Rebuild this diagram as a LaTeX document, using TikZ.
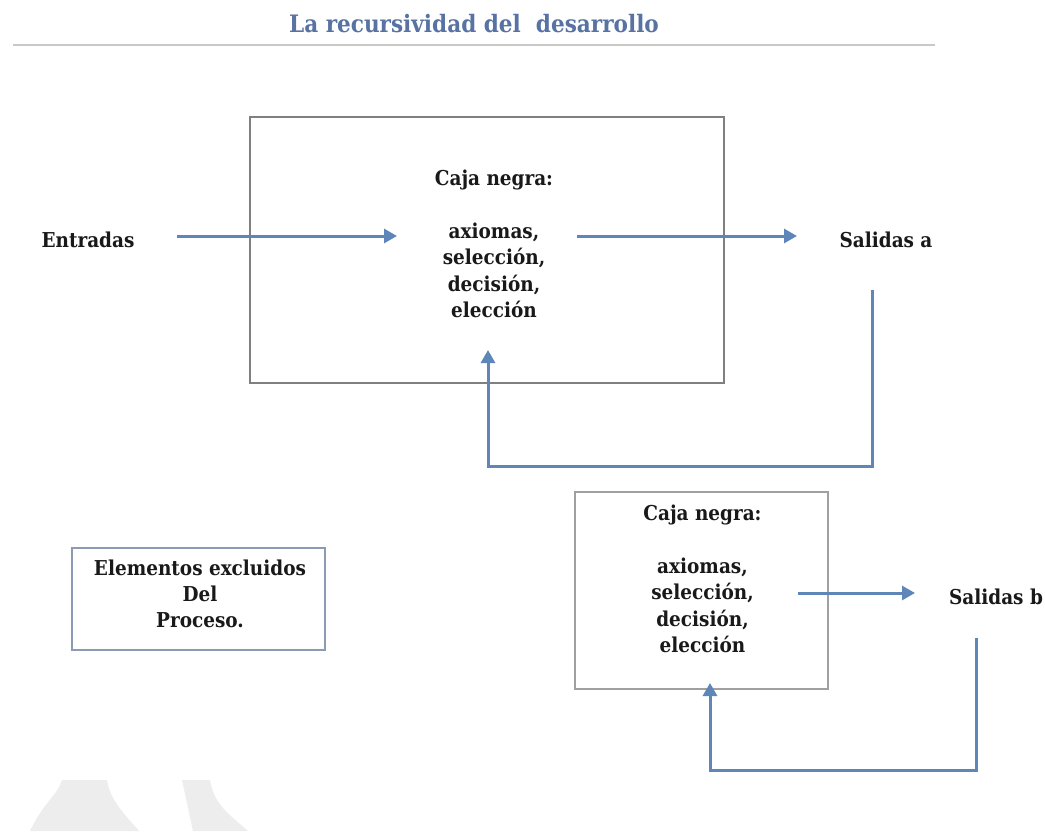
\documentclass[tikz,border=0pt]{standalone}
\usepackage{fontspec}
\setmainfont{DejaVu Serif Condensed}
\usetikzlibrary{arrows.meta}
\definecolor{titleblue}{HTML}{5872A3}
\definecolor{arrowblue}{HTML}{5F86B8}
\definecolor{boxgray}{HTML}{808080}
\definecolor{boxgrayb}{HTML}{A0A0A0}
\definecolor{boxblue}{HTML}{8A9BB3}
\definecolor{wmgray}{HTML}{EDEDED}
\definecolor{rulegray}{HTML}{C8C8C8}
\tikzset{
  x=1pt, y=-1pt,
  lbl/.style={font=\bfseries\fontsize{20.5}{26.5}\selectfont, align=center, inner sep=0pt, text=black!90},
  bigbox/.style={draw=boxgray, line width=1.6pt, inner sep=0pt},
  smallbox/.style={draw=boxgrayb, line width=2pt, inner sep=0pt},
  exbox/.style={draw=boxblue, line width=1.6pt, inner sep=0pt},
  flow/.style={draw=arrowblue, line width=3pt, -{Triangle[length=13pt,width=14pt]}},
  loopline/.style={draw=arrowblue, line width=3pt, line join=miter},
}
\begin{document}
\begin{tikzpicture}
\useasboundingbox[fill=white] (0,0) rectangle (1045,831);
% watermark shapes
\fill[wmgray] (30,831) .. controls (45,800) and (58,795) .. (62,780) -- (107,780) .. controls (110,800) and (125,815) .. (139,831) -- cycle;
\fill[wmgray] (182,780) -- (210,780) .. controls (214,805) and (230,815) .. (248,831) -- (193,831) -- cycle;
% title
\node[font=\bfseries\fontsize{24}{26}\selectfont, text=titleblue, inner sep=0pt] (title) at (474,24) {La recursividad del\ \ desarrollo};
\coordinate (rl) at (13,45);
\coordinate (rr) at (935,45);
\draw[rulegray, line width=2.5pt] (rl) -- (rr);
% top block
\node[bigbox, minimum width=474pt, minimum height=266pt] (box1) at (487,250) {};
\node[lbl] (cn1) at (494,244) {Caja negra:\\[26.5pt]axiomas,\\selección,\\decisión,\\elección};
\node[lbl] (ent) at (88,240) {Entradas};
\node[lbl] (sala) at (886,240) {Salidas a};
\coordinate (e1) at (177,236);
\coordinate (e2) at (397,236);
\coordinate (o1) at (577,236);
\coordinate (o2) at (797,236);
\draw[flow] (e1) -- (e2);
\draw[flow] (o1) -- (o2);
\coordinate (f1) at (872,290);
\coordinate (f2) at (488,350);
\draw[loopline, -{Triangle[length=13pt,width=14pt]}] (f1) -- (872,466) -- (488,466) -- (f2);
% bottom block
\node[smallbox, minimum width=253pt, minimum height=197pt] (box2) at (701.5,590.5) {};
\node[lbl] (cn2) at (702.5,579) {Caja negra:\\[26.5pt]axiomas,\\selección,\\decisión,\\elección};
\node[lbl] (salb) at (996,597) {Salidas b};
\coordinate (p1) at (798,593);
\coordinate (p2) at (915,593);
\draw[flow] (p1) -- (p2);
\coordinate (g1) at (976,638);
\coordinate (g2) at (710,683);
\draw[loopline, -{Triangle[length=13pt,width=14pt]}] (g1) -- (976,770) -- (710,770) -- (g2);
% excluded elements
\node[exbox, minimum width=253pt, minimum height=102pt] (box3) at (198.5,599) {};
\node[lbl, font=\bfseries\fontsize{20.5}{26}\selectfont] (exl) at (200,594) {Elementos excluidos\\Del\\Proceso.};
\end{tikzpicture}
\end{document}
